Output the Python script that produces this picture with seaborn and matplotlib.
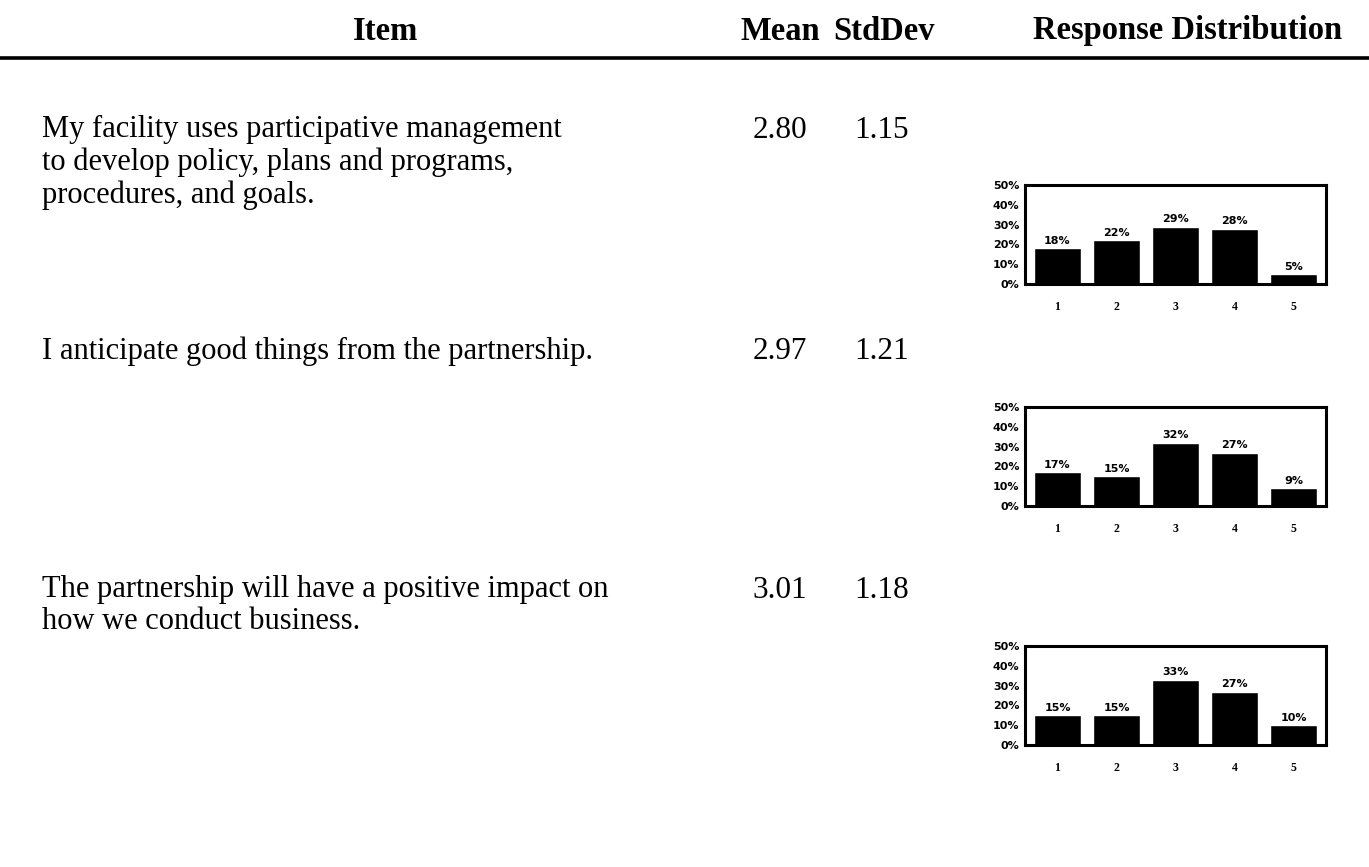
import numpy as np
import pandas as pd
import matplotlib
matplotlib.use("Agg")
import matplotlib.pyplot as plt
import seaborn as sns

# 数据
items = [
    "My facility uses participative management\nto develop policy, plans and programs,\nprocedures, and goals.",
    "I anticipate good things from the partnership.",
    "The partnership will have a positive impact on\nhow we conduct business.",
]
means = [2.80, 2.97, 3.01]
stds = [1.15, 1.21, 1.18]
responses = ["1", "2", "3", "4", "5"]
dist_1 = [18, 22, 29, 28, 5]
dist_2 = [17, 15, 32, 27, 9]
dist_3 = [15, 15, 33, 27, 10]
dists = [dist_1, dist_2, dist_3]
y_ticks = [0, 10, 20, 30, 40, 50]

sns.set_style("white")
plt.rcParams["font.family"] = ["Liberation Serif", "DejaVu Serif"]
plt.rcParams["text.color"] = "black"
plt.rcParams["xtick.color"] = "black"
plt.rcParams["ytick.color"] = "black"

W, H = 1369, 867
fig = plt.figure(figsize=(W / 100, H / 100), dpi=100)

def fx(px):
    return px / W

def fy(py):
    return 1 - py / H

# 表头
hdr = dict(fontsize=23.5, fontweight="bold", va="center", ha="center")
fig.text(fx(385), fy(31), "Item", **hdr)
fig.text(fx(780), fy(31), "Mean", **hdr)
fig.text(fx(884), fy(31), "StdDev", **hdr)
fig.text(fx(1188), fy(31), "Response Distribution", **hdr)
fig.add_artist(plt.Line2D([0, 1], [fy(58), fy(58)], color="black", lw=2.6,
                          transform=fig.transFigure))

row_y = [130, 352, 590]
chart_top = [185, 407, 646]
chart_h = 99

for i in range(3):
    fig.text(fx(42), fy(row_y[i] - 15), items[i], fontsize=22, va="top",
             ha="left", linespacing=1.15)
    fig.text(fx(780), fy(row_y[i]), f"{means[i]:.2f}", fontsize=22.5,
             va="center", ha="center")
    fig.text(fx(882), fy(row_y[i]), f"{stds[i]:.2f}", fontsize=22.5,
             va="center", ha="center")

    ax = fig.add_axes([fx(1025), fy(chart_top[i] + chart_h), fx(301), chart_h / H])
    df = pd.DataFrame({"resp": responses, "pct": dists[i]})
    sns.barplot(data=df, x="resp", y="pct", color="black", width=0.8,
                saturation=1, ax=ax)
    ax.set_ylim(0, 50)
    ax.set_xlim(-0.55, 4.55)
    ax.set_yticks(y_ticks)
    ax.set_yticklabels([f"{t}%" for t in y_ticks], fontsize=8, fontweight="bold",
                       family="Liberation Sans Narrow")
    ax.set_xticks(range(5))
    ax.set_xticklabels(responses, fontsize=8.5, fontweight="bold")
    ax.tick_params(axis="both", length=0)
    ax.tick_params(axis="x", pad=12)
    ax.tick_params(axis="y", pad=4)
    ax.set_xlabel("")
    ax.set_ylabel("")
    for s in ax.spines.values():
        s.set_visible(True)
        s.set_color("black")
        s.set_linewidth(2.2)
    for j, v in enumerate(dists[i]):
        ax.text(j, v + 1.2, f"{v}%", ha="center", va="bottom", fontsize=8,
                fontweight="bold", family="Liberation Sans Narrow")

fig.savefig("out.png", dpi=100)
